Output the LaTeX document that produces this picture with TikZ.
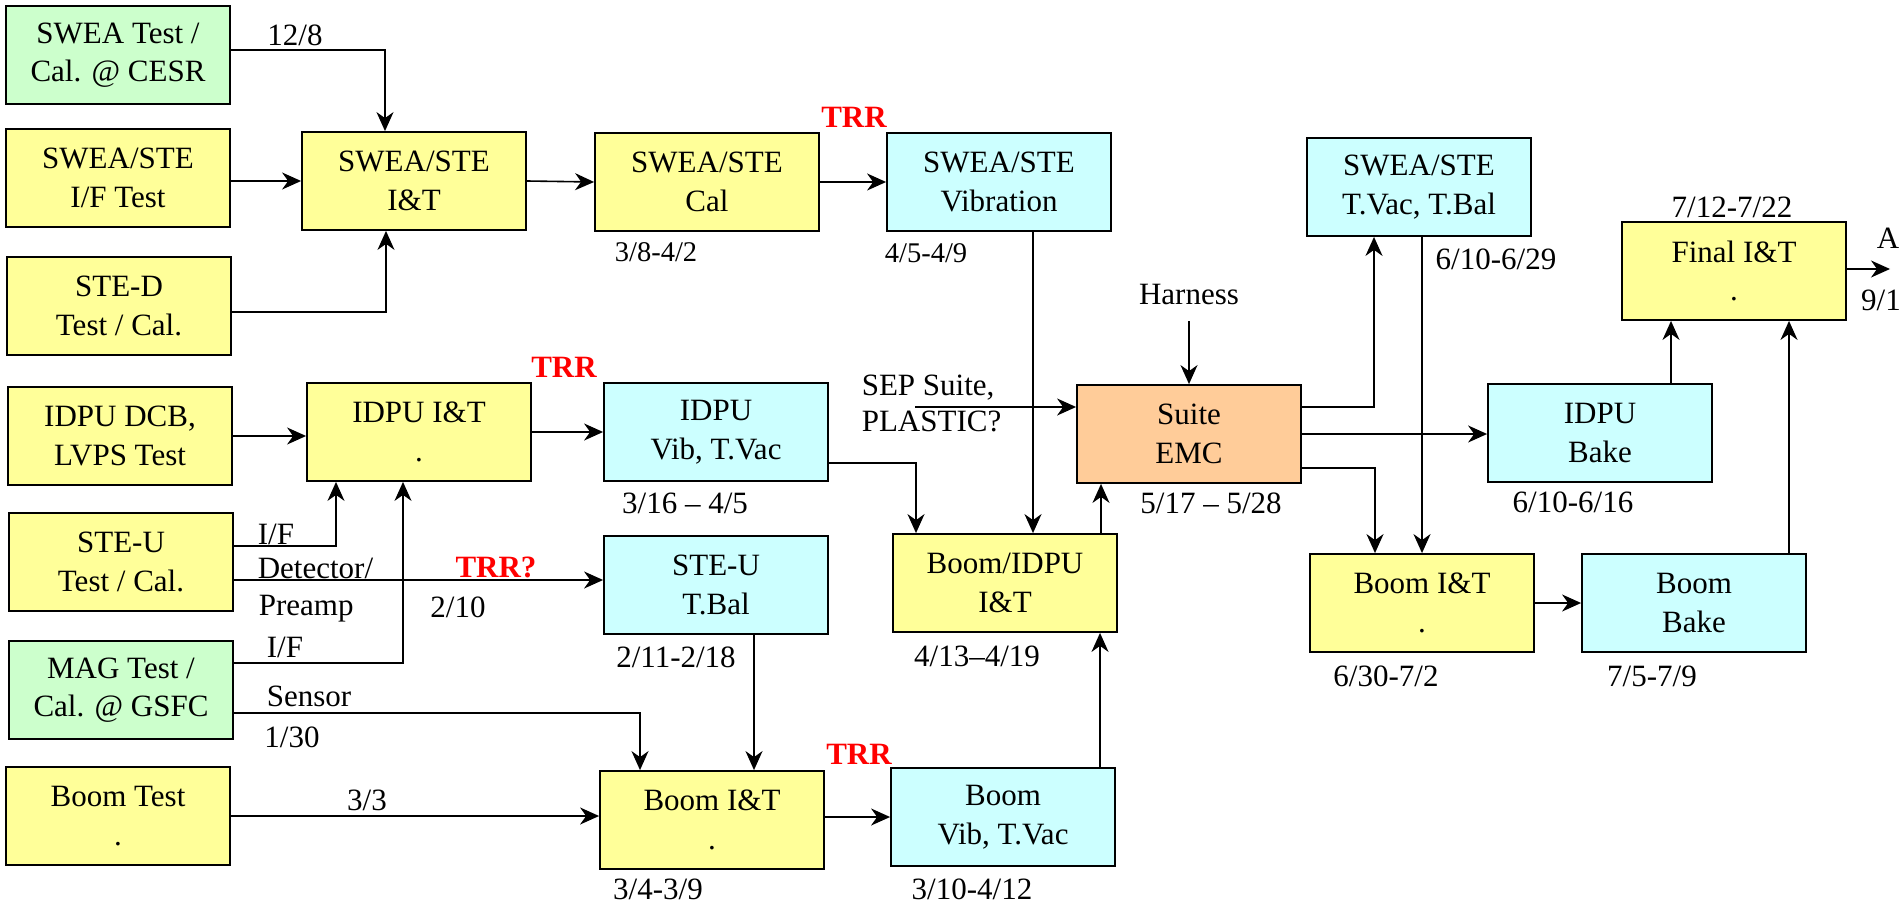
\documentclass[tikz,border=0pt]{standalone}
\usepackage{fontspec}
\setmainfont{Liberation Serif}
\usetikzlibrary{arrows.meta,positioning}
\definecolor{boxyellow}{HTML}{FFFF99}
\definecolor{boxcyan}{HTML}{CCFFFF}
\definecolor{boxgreen}{HTML}{CCFFCC}
\definecolor{boxorange}{HTML}{FFCC99}

\begin{document}
\begin{tikzpicture}[x=1pt,y=-1pt,
    >={Stealth[length=19pt,width=17pt,inset=6pt]},
    line width=1.6pt,
    box/.style={draw, line width=1.8pt, minimum width=224pt, minimum height=98pt, inner sep=0pt, align=center, font=\fontsize{31}{38.5}\selectfont},
    ybox/.style={box, fill=boxyellow},
    cbox/.style={box, fill=boxcyan},
    gbox/.style={box, fill=boxgreen},
    obox/.style={box, fill=boxorange},
    lbl/.style={inner sep=0pt, font=\fontsize{31}{36}\selectfont},
    slbl/.style={inner sep=0pt, font=\fontsize{28.5}{32}\selectfont},
    trr/.style={inner sep=0pt, text=red, font=\bfseries\fontsize{31}{36}\selectfont}]
    \useasboundingbox (0,0) rectangle (1903,904);

    % Inputs
    \node[gbox] (cesr) at (118,55) {SWEA Test /\\Cal. @ CESR};
    \node[ybox] (ifte) at (118,178) {SWEA/STE\\I/F Test};
    \node[ybox] (sted) at (119,306) {STE-D\\Test / Cal.};
    \node[ybox] (idpudcb) at (120,436) {IDPU DCB,\\LVPS Test};
    \node[ybox] (steu) at (121,562) {STE-U\\Test / Cal.};
    \node[gbox] (mag) at (121,690) {MAG Test /\\Cal. @ GSFC};
    \node[ybox] (boomtest) at (118,816) {Boom Test\\.};

    % SWEA/STE chain
    \node[ybox] (sweait) at (414,181) {SWEA/STE\\I\&T};
    \node[ybox] (sweacal) at (707,182) {SWEA/STE\\Cal};
    \node[cbox] (sweavib) at (999,182) {SWEA/STE\\Vibration};

    % IDPU, STE-U, Boom
    \node[ybox] (idpuit) at (419,432) {IDPU I\&T\\.};
    \node[cbox] (idpuvib) at (716,432) {IDPU\\Vib, T.Vac};
    \node[cbox] (steutbal) at (716,585) {STE-U\\T.Bal};
    \node[ybox] (boomidpu) at (1005,583) {Boom/IDPU\\I\&T};
    \node[ybox] (boomit) at (712,820) {Boom I\&T\\.};
    \node[cbox] (boomvib) at (1003,817) {Boom\\Vib, T.Vac};

    % Suite
    \node[obox] (suite) at (1189,434) {Suite\\EMC};
    \node[cbox] (tvac) at (1419,187) {SWEA/STE\\T.Vac, T.Bal};
    \node[cbox] (idpubake) at (1600,433) {IDPU\\Bake};
    \node[ybox] (final) at (1734,271) {Final I\&T\\.};
    \node[ybox] (boomit2) at (1422,603) {Boom I\&T\\.};
    \node[cbox] (boombake) at (1694,603) {Boom\\Bake};

    % Labels
    \node[lbl] (l128) at (295,35) {12/8};
    \node[trr] (trr1) at (854,117) {TRR};
    \node[trr] (trr2) at (564,367) {TRR};
    \node[trr] (trr3) at (496,567) {TRR?};
    \node[trr] (trr4) at (859,754) {TRR};
    \node[slbl] (dswcal) at (656,252) {3/8-4/2};
    \node[slbl] (dswvib) at (926,253) {4/5-4/9};
    \node[lbl] (dtvac) at (1496,259) {6/10-6/29};
    \node[lbl] (dfinal) at (1732,207) {7/12-7/22};
    \node[lbl] (didpuvib) at (685,503) {3/16 -- 4/5};
    \node[lbl] (dsuite) at (1211,503) {5/17 -- 5/28};
    \node[lbl] (dbake) at (1573,502) {6/10-6/16};
    \node[lbl] (d210) at (458,607) {2/10};
    \node[lbl] (dtbal) at (676,657) {2/11-2/18};
    \node[lbl] (dboomidpu) at (977,656) {4/13--4/19};
    \node[lbl] (dboomit) at (658,889) {3/4-3/9};
    \node[lbl] (dboomvib) at (972,889) {3/10-4/12};
    \node[lbl] (dboomit2) at (1386,676) {6/30-7/2};
    \node[lbl] (dboombake) at (1652,676) {7/5-7/9};
    \node[lbl] (d33) at (367,800) {3/3};
    \node[lbl] (d130) at (292,737) {1/30};
    \node[lbl] (lif1) at (276,534) {I/F};
    \node[lbl, anchor=base west] (ldet) at (257,578) {Detector/};
    \node[lbl, anchor=base west] (lpre) at (258,615) {Preamp};
    \node[lbl] (lif2) at (285,647) {I/F};
    \node[lbl] (lsens) at (309,696) {Sensor};
    \node[lbl] (lharn) at (1189,295) {Harness};
    \node[lbl, align=left, anchor=north west] (lsep) at (861,374) {SEP Suite,\\PLASTIC?};
    \node[lbl] (la) at (1888,238) {A};
    \node[lbl] (l91) at (1881,300) {9/1};
    \coordinate (sepin) at (915,407);
    \coordinate (harnin) at (1189,321);
    \coordinate (aout) at (1890,269);

    % Arrows
    \draw[->] ([yshift=5pt]cesr.east) -| ([xshift=-29pt]sweait.north);
    \draw[->] (ifte.east |- sweait) -- (sweait.west);
    \draw[->] ([yshift=-6pt]sted.east) -| ([xshift=-28pt]sweait.south);
    \draw[->] (sweait.east) -- (sweacal.west);
    \draw[->] (sweacal.east) -- (sweavib.west);
    \draw[->] ([xshift=34pt]sweavib.south) -- ([xshift=34pt]sweavib.south |- boomidpu.north);
    \draw[->] (idpudcb.east) -- (idpudcb.east -| idpuit.west);
    \draw[->] (idpuit.east) -- (idpuvib.west);
    \draw[->] ([yshift=16pt]steu.east) -| ([xshift=-83pt]idpuit.south);
    \draw[->] ([yshift=-18pt]steu.east) -- ([yshift=-18pt]steu.east -| steutbal.west);
    \draw[->] ([yshift=27pt]mag.east) -| ([xshift=-16pt]idpuit.south);
    \draw[->] ([yshift=-23pt]mag.east) -| ([xshift=-72pt]boomit.north);
    \draw[->] (boomtest.east) -- (boomtest.east -| boomit.west);
    \draw[->] ([xshift=38pt]steutbal.south) -- ([xshift=38pt]steutbal.south |- boomit.north);
    \draw[->] (boomit.east |- boomvib) -- (boomvib.west);
    \draw[->] ([xshift=97pt]boomvib.north) -- ([xshift=97pt]boomvib.north |- boomidpu.south);
    \draw[->] ([yshift=-31pt]idpuvib.east) -| ([xshift=-89pt]boomidpu.north);
    \draw[->] ([xshift=-88pt]suite.south |- boomidpu.north) -- ([xshift=-88pt]suite.south);
    \draw[->] (sepin) -- (sepin -| suite.west);
    \draw[->] (harnin) -- (suite.north);
    \draw[->] ([yshift=27pt]suite.east) -| ([xshift=-45pt]tvac.south);
    \draw[->] (suite.east) -- (suite.east -| idpubake.west);
    \draw[->] ([yshift=-34pt]suite.east) -| ([xshift=-47pt]boomit2.north);
    \draw[->] (boomit2.north |- tvac.south) -- (boomit2.north);
    \draw[->] (boomit2.east) -- (boombake.west);
    \draw[->] ([xshift=-63pt]final.south |- idpubake.north) -- ([xshift=-63pt]final.south);
    \draw[->] ([xshift=55pt]final.south |- boombake.north) -- ([xshift=55pt]final.south);
    \draw[->] (final.east |- aout) -- (aout);
\end{tikzpicture}
\end{document}
